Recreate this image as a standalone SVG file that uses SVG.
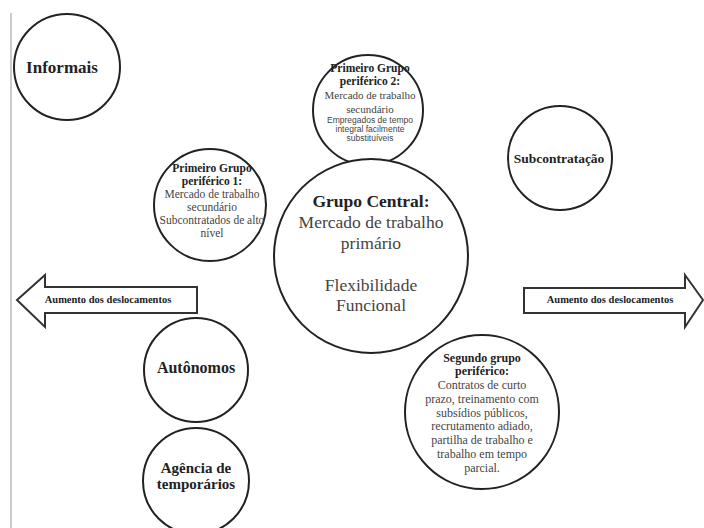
<svg xmlns="http://www.w3.org/2000/svg" width="704" height="528" viewBox="0 0 704 528">
<style>
.c{fill:#fff;stroke:#222;stroke-width:2}
.a{fill:#fff;stroke:#333;stroke-width:2}
text{font-family:"Liberation Serif","Times New Roman",serif;text-anchor:middle;fill:#444}
.b{font-weight:bold;fill:#222}
.s{font-family:"Liberation Sans",Arial,sans-serif;font-size:8.5px}
</style>
<rect width="704" height="528" fill="#fff"/>
<line x1="11" y1="13" x2="11" y2="528" stroke="#bbb" stroke-width="1.5"/>
<g id="connectors">
<g id="arrow-left">
<polygon class="a" points="17,300 45,275 45,287 197,287 197,313 45,313 45,327"/>
<text class="b" x="108" y="303" font-size="10.5">Aumento dos deslocamentos</text>
</g>
<g id="arrow-right">
<polygon class="a" points="524,288 685,288 685,275 703,300 685,327 685,313 524,313"/>
<text class="b" x="610" y="303" font-size="10.5">Aumento dos deslocamentos</text>
</g>
</g>
<g id="informais">
<circle class="c" cx="67" cy="67" r="53"/>
<text class="b" x="62" y="73" font-size="17">Informais</text>
</g>
<g id="periferico2">
<circle class="c" cx="368" cy="110" r="55"/>
<text class="b" x="370" y="72" font-size="11.5">Primeiro Grupo</text>
<text class="b" x="370" y="85" font-size="11.5">periférico 2:</text>
<text x="370" y="99" font-size="11">Mercado de trabalho</text>
<text x="370" y="113" font-size="11">secundário</text>
<text class="s" x="370" y="123">Empregados de tempo</text>
<text class="s" x="370" y="132">integral facilmente</text>
<text class="s" x="370" y="141">substituíveis</text>
</g>
<g id="central">
<circle class="c" cx="371" cy="256" r="97"/>
<text class="b" x="371" y="207" font-size="17.5">Grupo Central:</text>
<text x="371" y="228" font-size="17.5">Mercado de trabalho</text>
<text x="371" y="249" font-size="17.5">primário</text>
<text x="371" y="291" font-size="17.5">Flexibilidade</text>
<text x="371" y="311" font-size="17.5">Funcional</text>
</g>
<g id="periferico1">
<circle class="c" cx="210" cy="205" r="56"/>
<text class="b" x="212" y="172" font-size="11.5">Primeiro Grupo</text>
<text class="b" x="212" y="185" font-size="11.5">periférico 1:</text>
<text x="212" y="198" font-size="11.5">Mercado de trabalho</text>
<text x="212" y="211" font-size="11.5">secundário</text>
<text x="212" y="224" font-size="11.5">Subcontratados de alto</text>
<text x="212" y="237" font-size="11.5">nível</text>
</g>
<g id="subcontratacao">
<circle class="c" cx="560" cy="158" r="52"/>
<text class="b" x="559" y="163" font-size="13.5">Subcontratação</text>
</g>
<g id="segundo">
<circle class="c" cx="482" cy="412" r="77"/>
<text class="b" x="482" y="362" font-size="12">Segundo grupo</text>
<text class="b" x="482" y="375" font-size="12">periférico:</text>
<text x="482" y="389" font-size="12">Contratos de curto</text>
<text x="482" y="403" font-size="12">prazo, treinamento com</text>
<text x="482" y="417" font-size="12">subsídios públicos,</text>
<text x="482" y="430" font-size="12">recrutamento adiado,</text>
<text x="482" y="444" font-size="12">partilha de trabalho e</text>
<text x="482" y="458" font-size="12">trabalho em tempo</text>
<text x="482" y="472" font-size="12">parcial.</text>
</g>
<g id="autonomos">
<circle class="c" cx="196" cy="370" r="52"/>
<text class="b" x="196" y="373" font-size="16">Autônomos</text>
</g>
<g id="agencia">
<circle class="c" cx="196" cy="481" r="53"/>
<text class="b" x="196" y="473" font-size="15">Agência de</text>
<text class="b" x="196" y="489" font-size="15">temporários</text>
</g>
</svg>
